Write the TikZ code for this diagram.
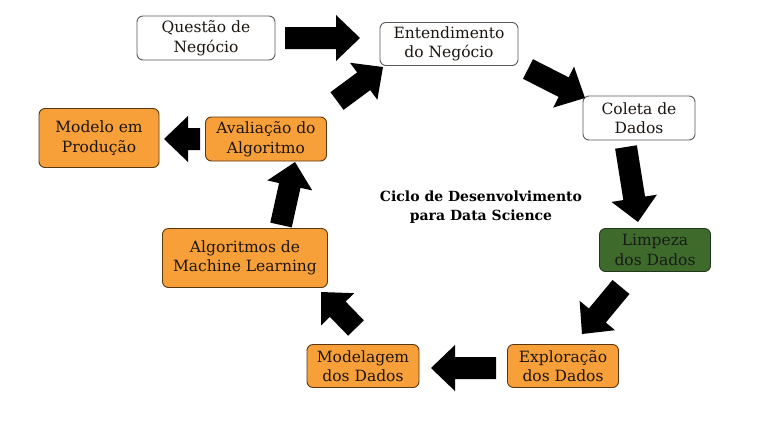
\documentclass[tikz,border=0pt]{standalone}
\usepackage{fontspec}
\setmainfont{DejaVu Serif}
\usetikzlibrary{calc}
\definecolor{orfill}{HTML}{F7A03A}
\definecolor{ordraw}{HTML}{5A3512}
\definecolor{grfill}{HTML}{3E6B2C}
\definecolor{grdraw}{HTML}{22361A}
\definecolor{txt}{HTML}{1C1510}
\newcommand\blockarr[2]{%
  \fill[black] let \p1=(#1), \p2=(#2),
    \n1={atan2(\y2-\y1,\x2-\x1)}, \n2={veclen(\x2-\x1,\y2-\y1)} in
    [shift={(\p1)}, rotate=\n1]
    (0pt,-11pt) -- ({\n2*1pt-24pt},-11pt) -- ({\n2*1pt-24pt},-23pt) -- ({\n2*1pt},0pt)
    -- ({\n2*1pt-24pt},23pt) -- ({\n2*1pt-24pt},11pt) -- (0pt,11pt) -- cycle;}
\begin{document}
\begin{tikzpicture}[x=1pt,y=-1pt,
  box/.style={rounded corners=6pt, line width=0.9pt, align=center, inner sep=0pt,
    font=\fontsize{15.5}{19.5}\selectfont, text=txt},
  wbox/.style={box, draw=black!65, fill=white},
  obox/.style={box, draw=ordraw, fill=orfill},
  gbox/.style={box, draw=grdraw, fill=grfill, text=black!90}]
\useasboundingbox (0,0) rectangle (776,432);
\fill[white] (0,0) rectangle (776,432);
\node[wbox, minimum width=138pt, minimum height=44pt] (q) at (206,38) {Questão de\\Negócio};
\node[wbox, minimum width=138pt, minimum height=43pt] (e) at (449,44) {Entendimento\\do Negócio};
\node[wbox, minimum width=112pt, minimum height=44pt] (c) at (639,118) {Coleta de\\Dados};
\node[gbox, minimum width=111pt, minimum height=43pt] (l) at (655,250) {Limpeza\\dos Dados};
\node[obox, minimum width=111pt, minimum height=43pt] (x) at (563,366) {Exploração\\dos Dados};
\node[obox, minimum width=112pt, minimum height=43pt] (m) at (363,366) {Modelagem\\dos Dados};
\node[obox, minimum width=165pt, minimum height=59pt] (a) at (245,258) {Algoritmos de\\Machine Learning};
\node[obox, minimum width=121pt, minimum height=44pt] (v) at (266,139) {Avaliação do\\Algoritmo};
\node[obox, minimum width=120pt, minimum height=59pt] (p) at (99,138) {Modelo em\\Produção};
\node[align=center, font=\bfseries\fontsize{14}{19.5}\selectfont, text=black] (t) at (481,207)
  {Ciclo de Desenvolvimento\\para Data Science};
% arrow end points
\coordinate (a1s) at (285,38);  \coordinate (a1e) at (360,38);
\coordinate (a2s) at (337,101); \coordinate (a2e) at (383,67);
\coordinate (a3s) at (528,69);  \coordinate (a3e) at (585,98);
\coordinate (a4s) at (626,147); \coordinate (a4e) at (638,222);
\coordinate (a5s) at (621,287); \coordinate (a5e) at (582,334);
\coordinate (a6s) at (496,368); \coordinate (a6e) at (431,368);
\coordinate (a7s) at (356,328); \coordinate (a7e) at (321,292);
\coordinate (a8s) at (281,225); \coordinate (a8e) at (295,162);
\coordinate (a9s) at (200,139); \coordinate (a9e) at (164,139);
\blockarr{a1s}{a1e}
\blockarr{a2s}{a2e}
\blockarr{a3s}{a3e}
\blockarr{a4s}{a4e}
\blockarr{a5s}{a5e}
\blockarr{a6s}{a6e}
\blockarr{a7s}{a7e}
\blockarr{a8s}{a8e}
\blockarr{a9s}{a9e}
\end{tikzpicture}
\end{document}
